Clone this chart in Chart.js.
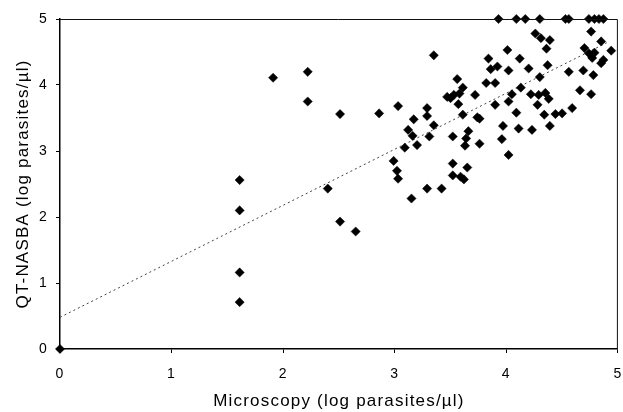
<!DOCTYPE html>
<html>
<head>
<meta charset="utf-8">
<script src="https://cdn.jsdelivr.net/npm/chart.js@4/dist/chart.umd.min.js"></script>
<style>
  html, body { margin: 0; padding: 0; background: #fff; overflow: hidden; }
</style>
</head>
<body>
<canvas id="chart" width="623" height="412"></canvas>
<script>
// log parasites/ul
var microX = [
  0,
  1.61, 1.61, 1.61, 1.61, 1.91, 2.22, 2.22, 2.40, 2.51, 2.51, 2.65, 2.86, 3.03,
  2.99, 3.02, 3.03, 3.12, 3.16, 3.20, 3.09, 3.15, 3.17, 3.29, 3.29, 3.35, 3.31, 3.29, 3.42, 3.35,
  3.47, 3.50, 3.53, 3.56, 3.58, 3.61, 3.57, 3.61, 3.72, 3.74, 3.76, 3.52, 3.66, 3.64, 3.63, 3.76,
  3.52, 3.65, 3.52, 3.59, 3.62,
  3.84, 3.86, 3.92, 3.82, 3.90, 3.90, 3.97, 3.96, 4.02, 4.01, 4.02, 4.02, 4.05, 4.09, 4.11,
  4.12, 4.13, 4.20, 4.22, 4.23, 4.26, 4.31, 4.39, 4.36, 4.37, 4.30, 4.29, 4.35, 4.38, 4.28,
  4.34, 4.39, 4.44, 4.50, 4.59,
  4.56, 4.66, 4.76, 4.70, 4.76, 4.85, 4.74, 4.79, 4.77, 4.87, 4.94, 4.69, 4.78, 4.85,
  3.93, 4.09, 4.17, 4.30, 4.53, 4.56, 4.74, 4.79, 4.83, 4.87
];
var nasbaY = [
  0,
  2.56, 2.10, 1.16, 0.71, 4.11, 4.20, 3.75, 2.43, 3.56, 1.93, 1.78, 3.57, 3.68,
  2.85, 2.70, 2.58, 3.32, 3.23, 3.09, 3.05, 2.28, 3.48, 3.65, 3.53, 3.39, 3.22, 2.43, 2.43, 4.45,
  3.82, 3.80, 3.85, 4.09, 3.87, 3.96, 3.71, 3.55, 3.85, 3.51, 3.49, 3.22, 3.30, 3.19, 3.08, 3.11,
  2.81, 2.75, 2.63, 2.61, 2.57,
  4.40, 4.24, 4.28, 4.03, 4.03, 3.70, 3.38, 3.18, 2.94, 4.53, 4.22, 3.75, 3.86, 3.58, 3.34,
  4.40, 3.96, 4.25, 3.86, 3.32, 4.78, 4.71, 4.68, 4.55, 4.30, 4.12, 3.85, 3.88, 3.79, 3.70,
  3.55, 3.38, 3.56, 3.57, 3.65,
  4.20, 3.92, 3.86, 4.56, 4.81, 4.66, 4.48, 4.49, 4.41, 4.38, 4.52, 4.22, 4.15, 4.33,
  5, 5, 5, 5, 5, 5, 5, 5, 5, 5
];
var trendX = [0, 4.9];
var trendY = [0.48, 4.64];
var tickValues = [0, 1, 2, 3, 4, 5];

var plot = (function () {
  'use strict';

  function toPoints (xs, ys) {
    var pts = [];
    for (var i = 0; i < xs.length; i++) {
      pts.push({ x: xs[i], y: ys[i] });
    }
    return pts;
  }

  // top and right edges of the plot box, plus the wide lettering of the scan
  var frame = {
    id: 'frame',
    beforeDraw: function (chart) {
      chart.ctx.letterSpacing = '1.2px';
    },
    afterDraw: function (chart) {
      var a = chart.chartArea;
      var ctx = chart.ctx;
      ctx.save();
      ctx.strokeStyle = '#111';
      ctx.lineWidth = 1;
      ctx.beginPath();
      ctx.moveTo(a.left, a.top + 0.5);
      ctx.lineTo(a.right - 0.5, a.top + 0.5);
      ctx.lineTo(a.right - 0.5, a.bottom);
      ctx.stroke();
      ctx.restore();
    }
  };

  function axis (title, fit, pad) {
    return {
      type: 'linear',
      min: 0,
      max: 5,
      afterBuildTicks: function (scale) {
        scale.ticks = tickValues.map(function (v) { return { value: v }; });
      },
      afterFit: fit,
      grid: { drawOnChartArea: false, tickLength: 4, color: '#000', lineWidth: 1 },
      border: { display: true, color: '#000', width: 1.5 },
      ticks: { color: '#000', padding: pad, font: { family: 'Liberation Sans', size: 14 } },
      title: { display: true, text: title, color: '#000', font: { family: 'Liberation Sans', size: 17 } }
    };
  }

  function init () {
    var xAxis = axis('Microscopy (log parasites/µl)', function (s) {
      s.height = 63;
      s.paddingLeft = 0;
      s.paddingRight = 4;
    }, 13);
    xAxis.title.padding = { top: 0, bottom: 0 };
    var yAxis = axis('QT-NASBA (log parasites/µl)', function (s) {
      s.width = 60;
      s.paddingTop = 10;
    }, 8);
    yAxis.title.padding = { top: 13, bottom: 0 };

    new Chart(document.getElementById('chart'), {
      type: 'scatter',
      data: {
        datasets: [{
          data: toPoints(microX, nasbaY),
          pointStyle: 'rectRot',
          pointRadius: 4.6,
          pointBackgroundColor: '#000',
          pointBorderColor: '#000',
          pointBorderWidth: 0.5,
          clip: false
        }, {
          data: toPoints(trendX, trendY),
          showLine: true,
          pointRadius: 0,
          borderColor: '#444',
          borderWidth: 1,
          borderDash: [2, 3]
        }]
      },
      plugins: [frame],
      options: {
        responsive: false,
        animation: false,
        layout: { padding: { top: 19, right: 4, left: 0, bottom: 0 } },
        plugins: { legend: { display: false }, tooltip: { enabled: false } },
        scales: { x: xAxis, y: yAxis }
      }
    });
  }

  return {
    init: init
  };
}());

plot.init();
</script>
</body>
</html>
